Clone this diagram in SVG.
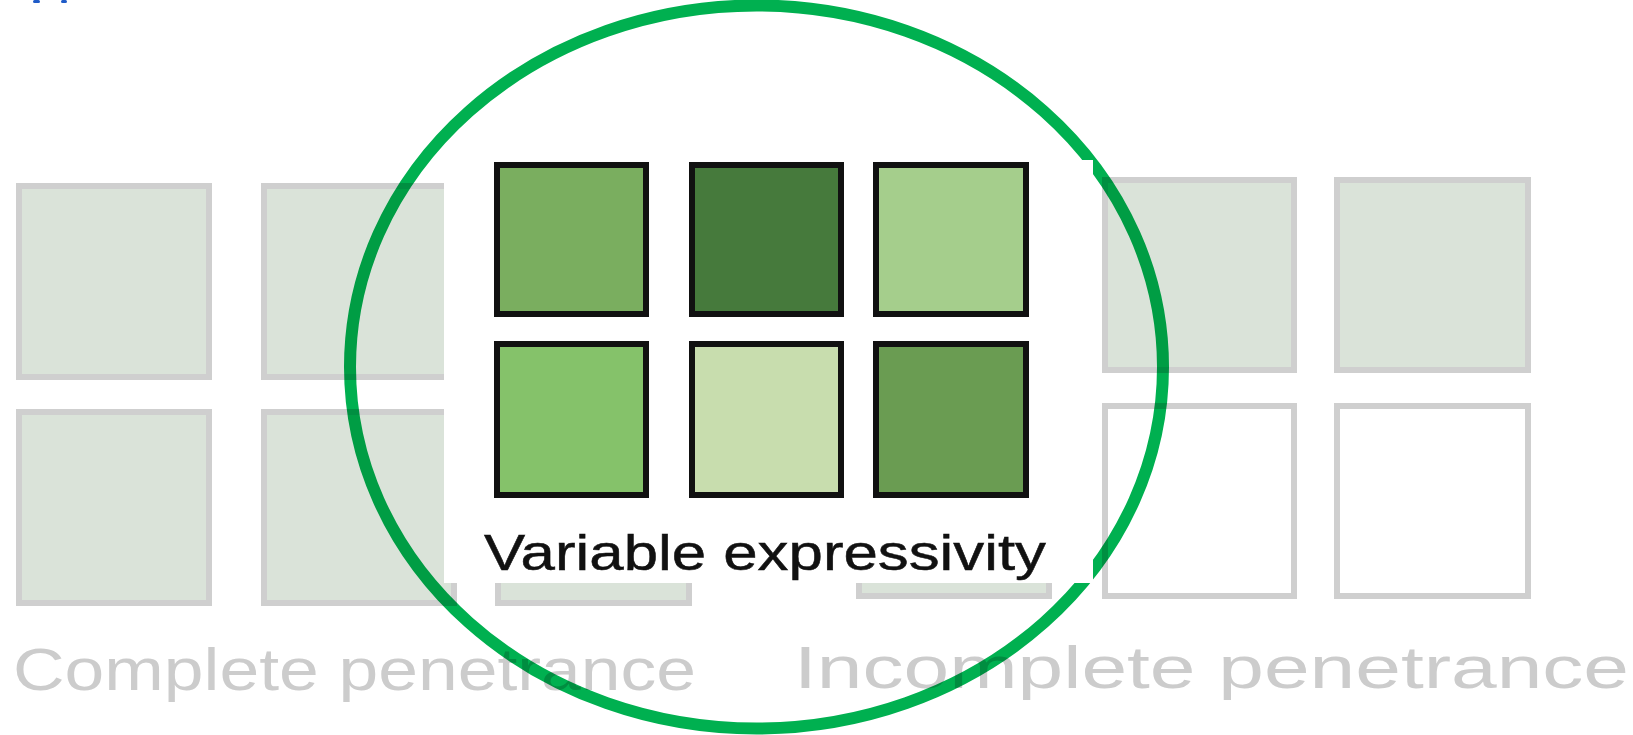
<svg xmlns="http://www.w3.org/2000/svg" width="1633" height="735" viewBox="0 0 1633 735">
  <style>
    .bg { fill: #dae3d9; stroke: #cfcfcf; stroke-width: 6; }
    .empty { fill: #ffffff; stroke: #cfcfcf; stroke-width: 6; }
    .gsq { stroke: #111111; stroke-width: 6; }
    .faint { font-family: "Liberation Sans", Arial, sans-serif; font-size: 60px; fill: #cccccc; }
    .dark { font-family: "Liberation Sans", Arial, sans-serif; font-size: 50px; fill: #111111; stroke: #111111; stroke-width: 0.5; }
  </style>
  <rect x="0" y="0" width="1633" height="735" fill="#ffffff"/>
  <g id="top-fragment" fill="#1f5bc8">
    <rect x="33" y="0" width="7" height="3" rx="1.5"/>
    <rect x="61" y="0" width="6" height="3" rx="1.5"/>
  </g>
  <g id="complete-penetrance">
    <rect class="bg" x="19" y="186" width="190" height="191"/>
    <rect class="bg" x="264" y="186" width="190" height="191"/>
    <rect class="bg" x="498" y="186" width="191" height="191"/>
    <rect class="bg" x="19" y="412" width="190" height="191"/>
    <rect class="bg" x="264" y="412" width="190" height="191"/>
    <rect class="bg" x="498" y="412" width="191" height="191"/>
    <text class="faint" x="13" y="690" textLength="683" lengthAdjust="spacingAndGlyphs">Complete penetrance</text>
  </g>
  <g id="incomplete-penetrance">
    <rect class="bg" x="859" y="180" width="190" height="190"/>
    <rect class="bg" x="1105" y="180" width="189" height="190"/>
    <rect class="bg" x="1337" y="180" width="191" height="190"/>
    <rect class="bg" x="859" y="406" width="190" height="190"/>
    <rect class="empty" x="1105" y="406" width="189" height="190"/>
    <rect class="empty" x="1337" y="406" width="191" height="190"/>
    <text class="faint" x="794" y="688" textLength="835" lengthAdjust="spacingAndGlyphs">Incomplete penetrance</text>
  </g>
  <g id="connectors">
    <ellipse id="highlight-ring" cx="756.5" cy="367" rx="406.5" ry="361.5" fill="none" stroke="#00b050" stroke-width="12" style="mix-blend-mode:multiply"/>
  </g>
  <g id="variable-expressivity">
    <rect x="444" y="160" width="649" height="423" fill="#ffffff"/>
    <rect class="gsq" x="497" y="165" width="149" height="149" fill="#7aae5f"/>
    <rect class="gsq" x="692" y="165" width="149" height="149" fill="#467a3c"/>
    <rect class="gsq" x="876" y="165" width="150" height="149" fill="#a5ce8c"/>
    <rect class="gsq" x="497" y="344" width="149" height="151" fill="#85c26a"/>
    <rect class="gsq" x="692" y="344" width="149" height="151" fill="#c8ddae"/>
    <rect class="gsq" x="876" y="344" width="150" height="151" fill="#6a9c52"/>
    <text class="dark" x="484" y="570" textLength="562" lengthAdjust="spacingAndGlyphs">Variable expressivity</text>
  </g>
</svg>
